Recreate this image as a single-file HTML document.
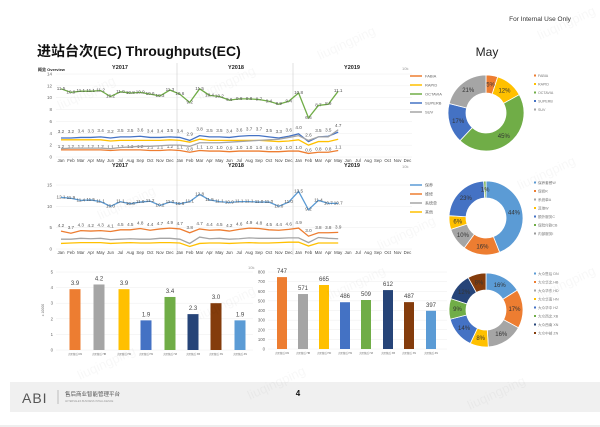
<!DOCTYPE html>
<html><head><meta charset="utf-8">
<style>
body{margin:0;background:#fff;}
svg{display:block;font-family:"Liberation Sans","Noto Sans CJK SC",sans-serif;}
</style></head>
<body>
<svg id="s" width="600" height="427" viewBox="0 0 600 427" xmlns="http://www.w3.org/2000/svg">
<text x="540" y="21" font-size="6.5" fill="#333" text-anchor="middle">For Internal Use Only</text>
<text x="37" y="56" font-size="14" font-weight="bold" fill="#111">进站台次(EC) Throughputs(EC)</text>
<text x="487" y="56" font-size="12" fill="#222" text-anchor="middle">May</text>
<rect x="10" y="382" width="590" height="30" fill="#f0f0f0"/>
<text x="22" y="403" font-size="14" fill="#555" letter-spacing="1">ABI</text>
<line x1="58" y1="390" x2="58" y2="404" stroke="#999" stroke-width="0.6"/>
<text x="65" y="396" font-size="5.5" fill="#555">售后商业智能管理平台</text>
<text x="65" y="402" font-size="2.5" fill="#999">AFTERSALES BUSINESS INTELLIGENCE</text>
<text x="298" y="396" font-size="8" font-weight="bold" fill="#111" text-anchor="middle">4</text>
<line x1="0" y1="426" x2="600" y2="426" stroke="#ddd"/>
<g id="g"></g>
</svg>
<script>
const g=document.getElementById('g');const NS='http://www.w3.org/2000/svg';
function el(t,a,txt){const e=document.createElementNS(NS,t);for(const k in a)e.setAttribute(k,a[k]);if(txt!==undefined)e.textContent=txt;g.appendChild(e);return e;}
const M=['Jan','Feb','Mar','Apr','May','Jun','Jul','Aug','Sep','Oct','Nov','Dec'];
const O='#ED7D31',GY='#A5A5A5',Y='#FFC000',B='#4472C4',G='#70AD47',NV='#264478',BR='#843C0C',LB='#5B9BD5';
const x0=61,dx=9.9;
function line(y0,y1,vmax,step,series,ly,yrY){
  const sc=(y0-y1)/vmax;
  for(let v=0;v<=vmax;v+=step){const y=y0-v*sc;el('line',{x1:56,x2:412,y1:y,y2:y,stroke:'#eee','stroke-width':0.5});el('text',{x:52,y:y+1.5,'font-size':4.5,fill:'#666','text-anchor':'end'},v);}
  [177,293].forEach(x=>el('line',{x1:x,x2:x,y1:yrY-6,y2:y0+6,stroke:'#ccc','stroke-width':0.6}));
  ['Y2017','Y2018','Y2019'].forEach((t,i)=>el('text',{x:120+i*116,y:yrY,'font-size':5.5,'font-weight':'bold',fill:'#222','text-anchor':'middle'},t));
  el('text',{x:402,y:yrY+1,'font-size':4,fill:'#999'},'10k');
  for(let i=0;i<36;i++)el('text',{x:x0+i*dx,y:y0+5,'font-size':4.3,fill:'#444','text-anchor':'middle'},M[i%12]);
  series.forEach((s,k)=>{
    const pts=s.v.map((v,i)=>(x0+i*dx)+','+(y0-v*sc)).join(' ');
    el('polyline',{points:pts,fill:'none',stroke:s.c,'stroke-width':1.3});
    if(s.lab)s.v.forEach((v,i)=>el('text',{x:x0+i*dx,y:y0-v*sc-(s.off||3),'font-size':4.6,fill:'#555','text-anchor':'middle'},(s.lv?s.lv[i]:v).toFixed(1)));
    el('line',{x1:410,x2:422,y1:ly+k*9,y2:ly+k*9,stroke:s.c,'stroke-width':1.5});
    el('text',{x:425,y:ly+k*9+1.5,'font-size':4,fill:'#666'},s.n);
  });
}
el('text',{x:38,y:71,'font-size':4,'font-weight':'bold',fill:'#222'},'概览 Overview');
line(157,74,14,2,[
 {n:'FABIA',c:O,v:[1.2,1.2,1.2,1.2,1.2,1.1,1.2,1.2,1.2,1.1,1.1,1.2,1.1,0.8,1.1,1.0,1.0,0.9,1.0,1.0,1.0,0.9,0.9,1.0,1.0,0.6,0.8,0.8,1.1],lab:1,off:2},
 {n:'RAPID',c:Y,v:[2.9,2.9,2.9,2.9,2.9,2.7,2.8,2.8,2.8,2.8,2.8,2.9,2.8,2.5,3.0,2.8,2.8,2.8,2.8,2.8,2.8,2.7,2.6,2.7,2.9,2.0,2.6,2.6,3.0]},
 {n:'OCTAVIA',c:G,v:[11.5,10.9,11.1,11.1,11.2,10.2,11.0,10.8,10.9,10.6,10.3,11.3,10.6,9.2,11.5,10.4,10.2,9.6,9.8,9.8,9.7,9.4,8.9,9.4,10.8,6.6,8.7,8.9,11.1],lab:1,off:-1},
 {n:'SUPERB',c:B,v:[3.2,3.2,3.3,3.3,3.4,3.2,3.4,3.4,3.5,3.3,3.3,3.4,3.3,2.8,3.6,3.4,3.4,3.3,3.5,3.6,3.6,3.4,3.2,3.5,3.9,2.6,3.4,3.5,4.2],lab:1,off:5,lv:[3.2,3.2,3.4,3.3,3.4,3.2,3.5,3.5,3.6,3.4,3.4,3.5,3.4,2.9,3.8,3.5,3.5,3.4,3.6,3.7,3.7,3.5,3.3,3.6,4.0,2.6,3.5,3.5,4.7]},
 {n:'SUV',c:GY,v:[1.4,1.5,1.5,1.5,1.5,1.4,1.6,1.7,1.8,1.8,1.9,2.0,2.0,1.8,2.4,2.4,2.4,2.5,2.6,2.7,2.8,2.9,3.0,3.3,3.6,2.8,3.4,3.4,4.6]}
],76,69);
line(249,185,15,5,[
 {n:'保养',c:LB,v:[12.1,11.9,11.4,11.5,11.1,10.0,11.1,10.6,11.0,11.2,10.2,11.0,10.6,11.1,12.8,11.5,11.1,10.9,11.1,11.1,11.0,11.0,10.0,11.0,13.5,9.2,11.4,10.7,10.7],lab:1,off:-1},
 {n:'维修',c:O,v:[4.2,3.7,4.3,4.2,4.3,4.1,4.5,4.5,4.8,4.4,4.7,4.9,4.7,3.8,4.7,4.4,4.5,4.2,4.6,4.9,4.8,4.5,4.4,4.6,4.9,3.0,3.8,3.8,3.9],lab:1,off:4},
 {n:'系统单',c:GY,v:[2.3,2.3,2.5,2.4,2.5,2.2,2.3,2.4,2.3,2.3,2.5,2.5,2.3,1.3,2.8,2.4,2.5,2.3,2.4,2.6,2.5,2.5,2.5,2.6,2.6,1.5,2.7,2.5,2.4]},
 {n:'其他',c:Y,v:[1.3,1.4,1.5,1.5,1.5,1.3,1.4,1.5,1.4,1.4,1.5,1.5,1.4,0.6,1.3,1.4,1.4,1.3,1.4,1.5,1.4,1.4,1.5,1.6,1.6,0.7,1.4,1.4,1.4]}
],185,167);
function bars(x0b,y0,y1,vmax,step,fmt,cx,w,vals){
  const sc=(y0-y1)/vmax;const cols=[O,GY,Y,B,G,NV,BR,LB];
  for(let v=0;v<=vmax;v+=step){const y=y0-v*sc;el('line',{x1:x0b,x2:x0b+cx[7]-cx[0]+2*w+10,y1:y,y2:y,stroke:'#eee','stroke-width':0.5});el('text',{x:x0b-3,y:y+1.5,'font-size':4.3,fill:'#666','text-anchor':'end'},v);}
  vals.forEach((v,i)=>{el('rect',{x:cx[i]-w/2,y:y0-v*sc,width:w,height:v*sc,fill:cols[i]});
   el('text',{x:cx[i],y:y0-v*sc-4,'font-size':6,fill:'#444','text-anchor':'middle'},fmt(v));
   el('text',{x:cx[i],y:y0+5,'font-size':2.5,fill:'#666','text-anchor':'middle'},'大区售后 '+['DN','HB','HD','HN','HZ','XB','XN','ZN'][i]);});
}
bars(56,350,272,5,1,v=>v.toFixed(1),[75,99,124,146,170,193,216,240],11,[3.9,4.2,3.9,1.9,3.4,2.3,3.0,1.9]);
el('text',{x:44,y:310,'font-size':3.5,fill:'#666',transform:'rotate(-90 44 310)','text-anchor':'middle'},'x 10000');
bars(268,349,272,800,100,v=>v,[282,303,324,345,366,388,409,431],10,[747,571,665,486,509,612,487,397]);
el('text',{x:248,y:269,'font-size':4,fill:'#999'},'10k');
function donut(cx,cy,R,r,data,labs,ly){
  let a=-Math.PI/2;const tot=data.reduce((s,d)=>s+d[0],0);
  data.forEach(d=>{const a2=a+d[0]/tot*2*Math.PI;const lg=(a2-a)>Math.PI?1:0;
   const p=(rr,t)=>(cx+rr*Math.cos(t)).toFixed(2)+' '+(cy+rr*Math.sin(t)).toFixed(2);
   el('path',{d:`M${p(R,a)} A${R} ${R} 0 ${lg} 1 ${p(R,a2)} L${p(r,a2)} A${r} ${r} 0 ${lg} 0 ${p(r,a)}Z`,fill:d[1],stroke:'#fff','stroke-width':0.8});
   const m=(a+a2)/2,rm=(R+r)/2;el('text',{x:cx+rm*Math.cos(m),y:cy+rm*Math.sin(m)+2,'font-size':6,fill:'#333','text-anchor':'middle'},d[0]+'%');a=a2;});
  labs.forEach((t,i)=>{el('rect',{x:534,y:ly+i*8.5-1.5,width:2,height:2,fill:data[i]?data[i][1]:'#999'});el('text',{x:538,y:ly+i*8.5+1,'font-size':3.6,fill:'#777'},t);});
}
donut(486,113,38,20,[[5,O],[12,Y],[45,G],[17,B],[21,GY]],['FABIA','RAPID','OCTAVIA','SUPERB','SUV'],76);
donut(486,218,37,20,[[44,LB],[16,O],[10,GY],[6,Y],[23,B],[1,G]],['保养套餐W','保修R','系统单A','其他W','额外服务C','保险付款CB','内部服务I'],183);
donut(486,310,37,20,[[16,LB],[17,O],[16,GY],[8,Y],[14,B],[9,G],[12,NV],[8,BR]],['大众售后 DN','大众华北 HB','大众华东 HD','大众华南 HN','大众华中 HZ','大众西北 XB','大众西南 XN','大众中部 ZN'],274);
[[60,110],[200,100],[320,60],[540,40],[380,250],[100,220],[520,190],[200,320],[330,300],[540,300],[80,380],[250,400],[470,410]].forEach(p=>el('text',{x:p[0],y:p[1],'font-size':13,fill:'#000','fill-opacity':0.03,transform:`rotate(-25 ${p[0]} ${p[1]})`},'liuqingping'));
</script>
</body></html>
